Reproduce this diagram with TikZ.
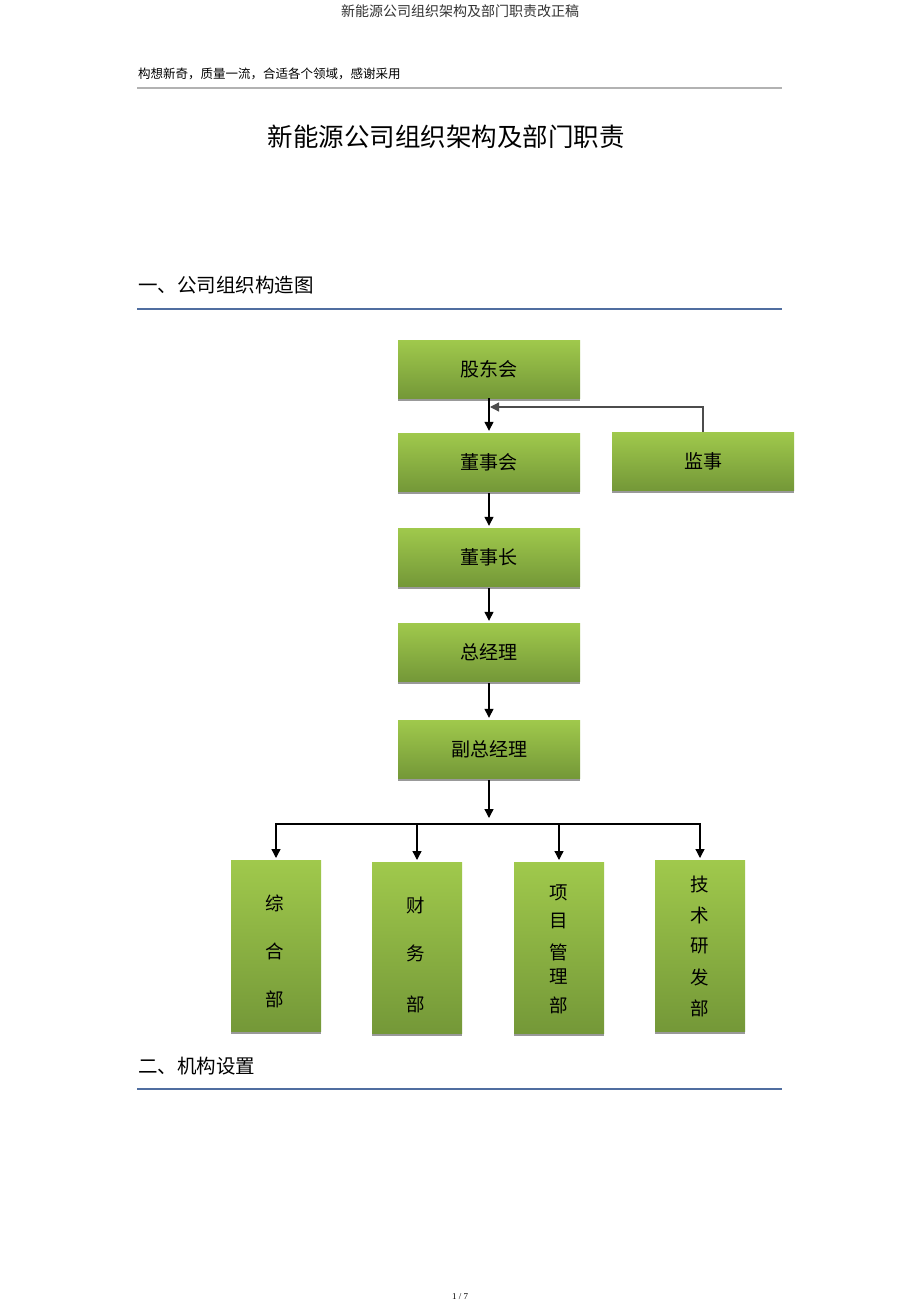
\documentclass[tikz,border=0pt]{standalone}
\usepackage{fontspec}
\setmainfont{Liberation Serif}
\newfontfamily\cjk{Noto Sans CJK SC}
\usetikzlibrary{arrows.meta,shadows}
\definecolor{gtop}{RGB}{160,201,76}
\definecolor{gbot}{RGB}{116,152,56}
\definecolor{hblue}{RGB}{80,110,160}
\tikzset{
  box/.style={rectangle, top color=gtop, bottom color=gbot, draw=none, inner sep=0pt,
    font=\cjk\fontsize{19}{22}\selectfont,
    drop shadow={shadow xshift=0pt, shadow yshift=-2.5pt, fill=black!40, opacity=1}},
  topbox/.style={box, minimum width=182pt, minimum height=58pt},
  colbox/.style={box, minimum width=90pt, minimum height=171pt, anchor=north},
  ch/.style={font=\cjk\fontsize{18.5}{20}\selectfont, inner sep=0pt},
  conn/.style={draw, line width=1.3pt, -{Triangle[width=9pt,length=9pt]}},
  plain/.style={draw, line width=1.3pt},
  sideconn/.style={draw=black!70, line width=1.3pt, -{Triangle[width=9pt,length=9pt]}},
  rule/.style={line width=1.6pt},
}
\begin{document}
\begin{tikzpicture}[x=1pt,y=-1pt]
\useasboundingbox[fill=white] (0,0) rectangle (920,1303);
% header texts
\node[font=\cjk\fontsize{14}{16}\selectfont, text=black!80, inner sep=0pt] (hdr) at (460,11) {新能源公司组织架构及部门职责改正稿};
\node[font=\cjk\fontsize{12.5}{14}\selectfont, anchor=west, inner sep=0pt] (slogan) at (138,74) {构想新奇，质量一流，合适各个领域，感谢采用};
\coordinate (g1) at (137,88); \coordinate (g2) at (782,88);
\draw[rule, draw=black!30] (g1) -- (g2);
\node[font=\cjk\fontsize{25.5}{28}\selectfont, inner sep=0pt] (title) at (446,137) {新能源公司组织架构及部门职责};
\node[font=\cjk\fontsize{19.5}{22}\selectfont, anchor=west, inner sep=0pt] (sec1) at (138,285) {一、公司组织构造图};
\coordinate (b1) at (137,309); \coordinate (b2) at (782,309);
\draw[rule, draw=hblue] (b1) -- (b2);
% top chain
\node[topbox] (gdh) at (489,369) {股东会};
\node[topbox] (dsh) at (489,462) {董事会};
\node[topbox] (js)  at (703,461) {监事};
\node[topbox] (dsz) at (489,557) {董事长};
\node[topbox] (zjl) at (489,652) {总经理};
\node[topbox] (fzjl) at (489,749) {副总经理};
\draw[conn, shorten >=2pt] (gdh.south) -- (dsh.north);
\coordinate (jn) at (490,407);
\draw[sideconn] (js.north) |- (jn);
\draw[conn, shorten <=2pt, shorten >=2pt] (dsh.south) -- (dsz.north);
\draw[conn, shorten <=2pt, shorten >=2pt] (dsz.south) -- (zjl.north);
\draw[conn, shorten <=2pt, shorten >=2pt] (zjl.south) -- (fzjl.north);
% bottom columns
\node[colbox] (zh) at (276,860) {};
\node[colbox] (cw) at (417,862) {};
\node[colbox] (xm) at (559,862) {};
\node[colbox] (js2) at (700,860) {};
\coordinate (busA) at (489,818);
\coordinate (busL) at (276,824);
\coordinate (busR) at (700,824);
\draw[conn, shorten <=2pt] (fzjl.south) -- (busA);
\draw[plain, line cap=rect] (busL) -- (busR);
\draw[conn, shorten >=2pt] (zh.north |- busL) -- (zh.north);
\draw[conn, shorten >=2pt] (cw.north |- busL) -- (cw.north);
\draw[conn, shorten >=2pt] (xm.north |- busL) -- (xm.north);
\draw[conn, shorten >=2pt] (js2.north |- busL) -- (js2.north);
% column texts
\node[ch] (zh1) at (275,903) {综};
\node[ch] (zh2) at (275,951) {合};
\node[ch] (zh3) at (275,999) {部};
\node[ch] (cw1) at (416,905) {财};
\node[ch] (cw2) at (416,953) {务};
\node[ch] (cw3) at (416,1004) {部};
\node[ch] (xm1) at (559,893) {项};
\node[ch] (xm2) at (559,921) {目};
\node[ch] (xm3) at (559,952) {管};
\node[ch] (xm4) at (559,977) {理};
\node[ch] (xm5) at (559,1005) {部};
\node[ch] (jy1) at (700,884) {技};
\node[ch] (jy2) at (700,915) {术};
\node[ch] (jy3) at (700,946) {研};
\node[ch] (jy4) at (700,977) {发};
\node[ch] (jy5) at (700,1008) {部};
% section 2
\node[font=\cjk\fontsize{19.5}{22}\selectfont, anchor=west, inner sep=0pt] (sec2) at (138,1066) {二、机构设置};
\coordinate (c1) at (137,1089); \coordinate (c2) at (782,1089);
\draw[rule, draw=hblue] (c1) -- (c2);
\node[font=\fontsize{9}{10}\selectfont, inner sep=0pt] (pg) at (460,1297) {1 / 7};
\end{tikzpicture}
\end{document}
